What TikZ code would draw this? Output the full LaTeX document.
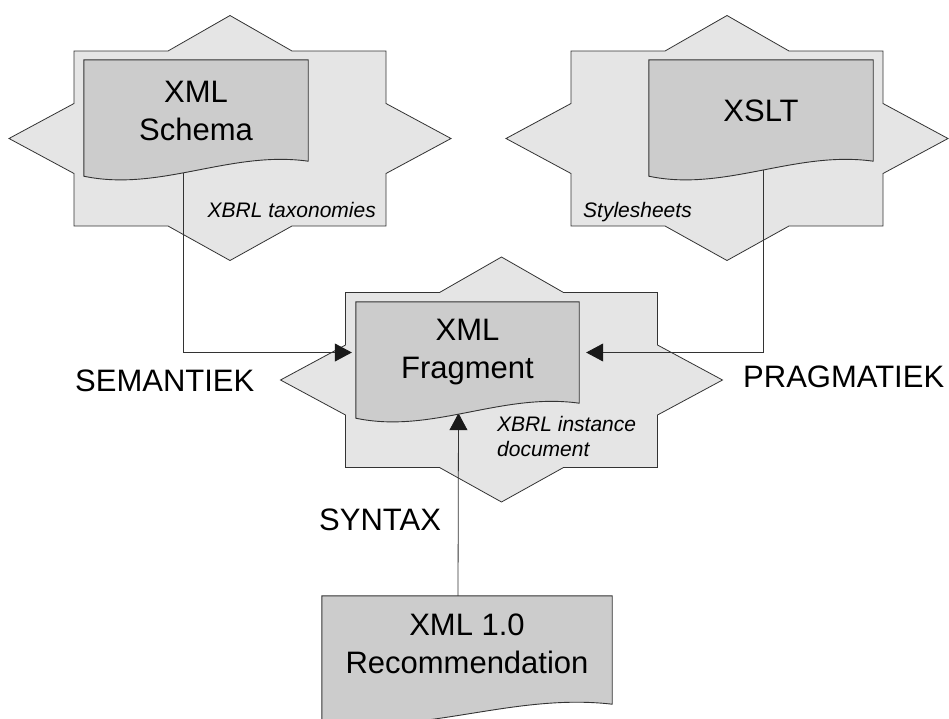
\documentclass[tikz,border=0pt]{standalone}
\usepackage{fontspec}
\setmainfont{Liberation Sans}
\usetikzlibrary{calc,arrows.meta}
\pgfdeclarelayer{starlayer}
\pgfdeclarelayer{connlayer}
\pgfdeclarelayer{doclayer}
\pgfsetlayers{starlayer,connlayer,doclayer,main}
\definecolor{starfill}{gray}{0.9}
\definecolor{docfill}{gray}{0.8}
\definecolor{linegray}{gray}{0.2}
\definecolor{tipcol}{gray}{0.1}
\tikzset{
  starstyle/.style={draw=linegray, fill=starfill, line width=0.8pt, line join=miter},
  docstyle/.style={draw=linegray, fill=docfill, line width=0.9pt},
  docnode/.style={inner sep=0pt, align=center, font=\fontsize{31}{38}\selectfont},
  tagtext/.style={inner sep=0pt, font=\fontsize{21}{25}\selectfont\itshape, align=left},
  bigtext/.style={inner sep=0pt, font=\fontsize{31}{38}\selectfont},
  conn/.style={draw=linegray, line width=0.8pt, -{Triangle[length=17pt,width=18pt,fill=tipcol,color=tipcol]}}
}
\newcommand{\starat}[1]{%
  \draw[starstyle,shift={(#1)}] (-156,-87.5) -- (-62,-87.5) -- (0,-123) -- (62,-87.5) -- (156,-87.5)
    -- (156,-35) -- (221,0) -- (156,35) -- (156,87.5) -- (62,87.5) -- (0,122) -- (-62,87.5)
    -- (-156,87.5) -- (-156,35) -- (-221,0) -- (-156,-35) -- cycle;}
\newcommand{\docat}[3]{%
  \draw[docstyle] (#1.north west) -- (#1.north east) -- (#1.south east)
    .. controls ($(#1.south east)+(-78*#2,-11*#3)$) and ($(#1.south west)+(76*#2,31*#3)$)
    .. ($(#1.south west)+(0,15*#3)$) -- cycle;}
\begin{document}
\begin{tikzpicture}[x=1pt,y=-1pt]
\useasboundingbox (0,0) rectangle (949,718);

% document nodes
\node[docnode, minimum width=224pt, minimum height=101pt] (schema) at (196,110.5) {XML\\Schema};
\node[docnode, minimum width=224pt, minimum height=101pt] (xslt) at (761,110.5) {XSLT};
\node[docnode, minimum width=223pt, minimum height=101pt] (frag) at (467.5,352.5) {XML\\Fragment};
\node[docnode, minimum width=290pt, minimum height=108pt] (rec) at (467,650) {};
\node[docnode] (rectext) at (467,644) {XML 1.0\\Recommendation};

% stars
\begin{pgfonlayer}{starlayer}
  \starat{230,138.5}
  \starat{727,138.5}
  \starat{501.5,380}
\end{pgfonlayer}

% documents
\begin{pgfonlayer}{doclayer}
  \docat{schema}{1}{1}
  \docat{xslt}{1}{1}
  \docat{frag}{1}{1}
  \docat{rec}{1.295}{1.07}
\end{pgfonlayer}

% connectors
\begin{pgfonlayer}{connlayer}
  \draw[conn, shorten >=4pt] ([xshift=-13pt]schema.center) |- (frag.west);
  \draw[conn, shorten >=7pt] ([xshift=2pt]xslt.center) |- (frag.east);
  \draw[conn] ([xshift=-9pt]rec.north) -- ([xshift=-9pt,yshift=-10pt]frag.south);
\end{pgfonlayer}

% italic tags
\node[tagtext, anchor=base east] (tax) at (376,217) {XBRL taxonomies};
\node[tagtext, anchor=base west] (sty) at (583,217) {Stylesheets};
\node[tagtext, anchor=north west] (inst) at (497,416.5) {XBRL instance\\document};

% big labels
\node[bigtext, anchor=base west] (sem) at (75,391) {SEMANTIEK};
\node[bigtext, anchor=base west] (prag) at (743,387) {PRAGMATIEK};
\node[bigtext, anchor=base west] (syn) at (319,530) {SYNTAX};
\end{tikzpicture}
\end{document}
